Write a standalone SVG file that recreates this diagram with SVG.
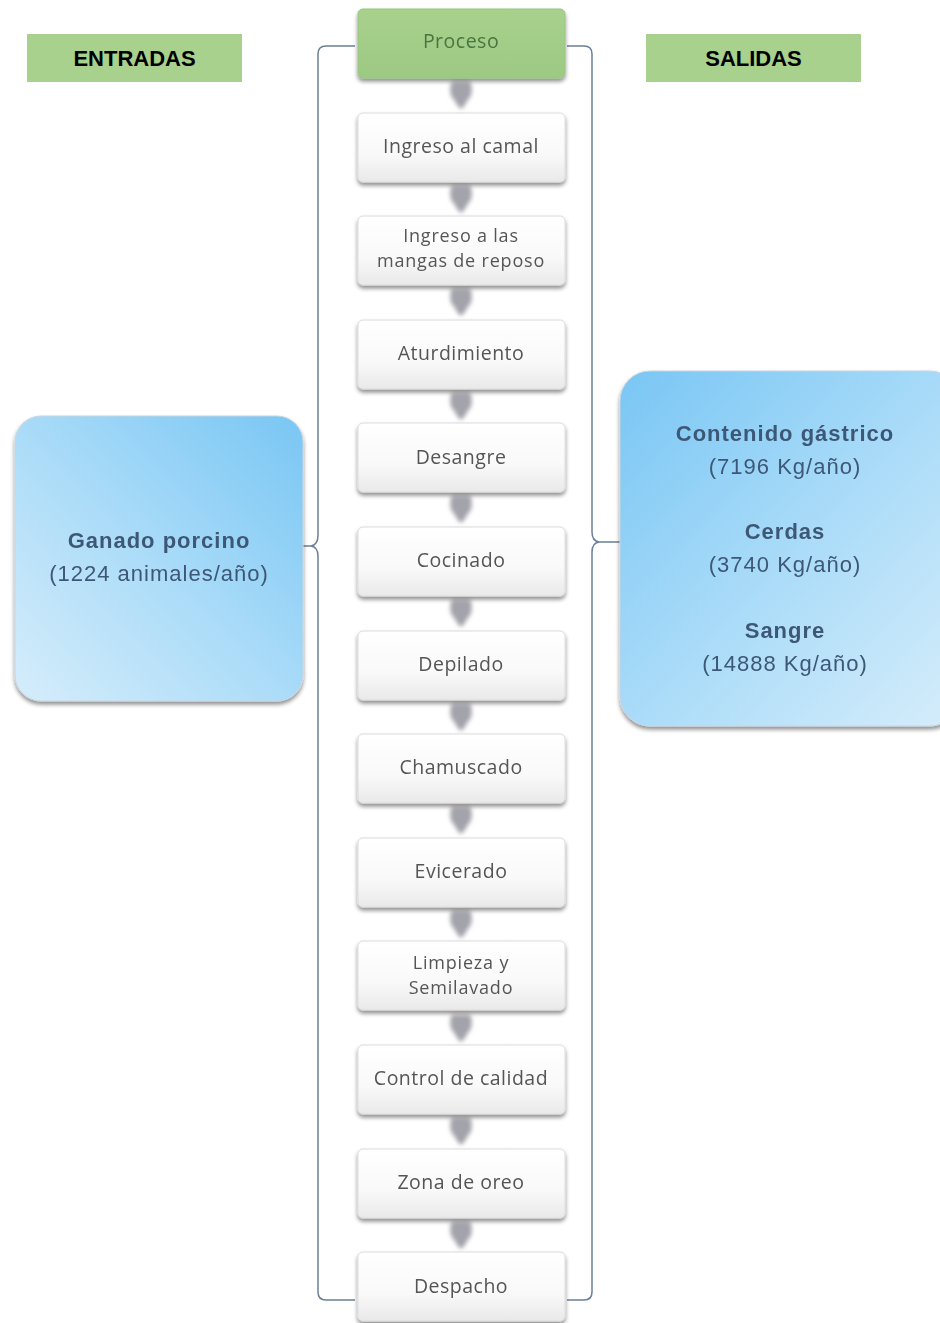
<svg xmlns="http://www.w3.org/2000/svg" width="940" height="1323" viewBox="0 0 940 1323">
  <defs>
    <linearGradient id="stepFill" x1="0" y1="0" x2="0" y2="1">
      <stop offset="0" stop-color="#ffffff"/>
      <stop offset="0.6" stop-color="#f9f9f9"/>
      <stop offset="1" stop-color="#e9e9e9"/>
    </linearGradient>
    <linearGradient id="headFill" x1="0" y1="0" x2="0" y2="1">
      <stop offset="0" stop-color="#a8d18c"/>
      <stop offset="1" stop-color="#9cc983"/>
    </linearGradient>
    <linearGradient id="blueFill" x1="1" y1="0" x2="0" y2="1">
      <stop offset="0" stop-color="#79c6f4"/>
      <stop offset="0.5" stop-color="#a9dbf8"/>
      <stop offset="1" stop-color="#d6edfb"/>
    </linearGradient>
    <linearGradient id="blueFillR" x1="0" y1="0" x2="1" y2="1">
      <stop offset="0" stop-color="#79c6f4"/>
      <stop offset="0.5" stop-color="#a9dbf8"/>
      <stop offset="1" stop-color="#d6edfb"/>
    </linearGradient>
    <filter id="shadow" x="-10%" y="-10%" width="120%" height="130%">
      <feGaussianBlur in="SourceAlpha" stdDeviation="2"/>
      <feOffset dy="3" result="b"/>
      <feComponentTransfer><feFuncA type="linear" slope="0.45"/></feComponentTransfer>
      <feMerge><feMergeNode/><feMergeNode in="SourceGraphic"/></feMerge>
    </filter>
    <filter id="soft" x="-50%" y="-50%" width="200%" height="200%">
      <feGaussianBlur stdDeviation="2"/>
    </filter>
    <symbol id="arrow" viewBox="0 0 28 36" overflow="visible">
      <path d="M6 2 H22 Q26 2 26 8 V14 Q26 18 22 22 L17 30 Q14 34 11 30 L6 22 Q2 18 2 14 V8 Q2 2 6 2 Z" fill="#a3a3ab"/>
    </symbol>
  </defs>
  <style>
    .step rect { fill: url(#stepFill); stroke: #dcdcdc; stroke-width: 1; }
    .step text { font-family: "Open Sans", "Noto Sans", sans-serif; font-size: 19.5px; letter-spacing: 0.5px; fill: #555555; text-anchor: middle; }
    .step text.two { font-size: 18px; letter-spacing: 0.8px; }
    .tag rect { fill: #a9d18e; }
    .tag text { font-family: "Liberation Sans", Arial, sans-serif; font-size: 22px; font-weight: bold; fill: #000; text-anchor: middle; }
    .blue rect { fill: url(#blueFill); stroke: #c8d6e2; stroke-width: 1; }
    .blue text { font-family: "Liberation Sans", Arial, sans-serif; font-size: 22px; letter-spacing: 1px; fill: #3e5876; text-anchor: middle; }
    .blue .b { font-weight: bold; }
    .links path { fill: none; stroke: #6b7f98; stroke-width: 1.5; }
  </style>

  <rect width="940" height="1323" fill="#ffffff"/>

  <!-- section labels -->
  <g id="entradas" class="tag"><rect x="27" y="34" width="215" height="48"/><text x="134.5" y="66">ENTRADAS</text></g>
  <g id="salidas" class="tag"><rect x="646" y="34" width="215" height="48"/><text x="753.5" y="66">SALIDAS</text></g>

  <!-- braces grouping the process chain -->
  <g id="connectors" class="links">
    <path d="M355 46 H326 Q318 46 318 54 V535 Q318 545 311 546 H278 M311 546 Q318 547 318 556 V1292 Q318 1300 326 1300 H355"/>
    <path d="M567 46 H584 Q592 46 592 54 V532 Q592 541 599 542 H626 M599 542 Q592 543 592 552 V1292 Q592 1300 584 1300 H567"/>
    <g filter="url(#soft)">
      <use href="#arrow" x="447" y="80" width="28" height="32"/>
      <use href="#arrow" x="447" y="184" width="28" height="32"/>
      <use href="#arrow" x="447" y="287" width="28" height="32"/>
      <use href="#arrow" x="447" y="391" width="28" height="32"/>
      <use href="#arrow" x="447" y="494" width="28" height="32"/>
      <use href="#arrow" x="447" y="598" width="28" height="32"/>
      <use href="#arrow" x="447" y="702" width="28" height="32"/>
      <use href="#arrow" x="447" y="805" width="28" height="32"/>
      <use href="#arrow" x="447" y="909" width="28" height="32"/>
      <use href="#arrow" x="447" y="1013" width="28" height="32"/>
      <use href="#arrow" x="447" y="1116" width="28" height="32"/>
      <use href="#arrow" x="447" y="1220" width="28" height="32"/>
    </g>
  </g>

  <!-- process steps -->
  <g id="proceso" class="step" filter="url(#shadow)"><rect x="358" y="9" width="207" height="69" rx="5" style="fill:url(#headFill);stroke:#98c47e"/><text x="461" y="48" style="fill:#4a7540">Proceso</text></g>
  <g id="ingreso-camal" class="step" filter="url(#shadow)"><rect x="358" y="113" width="207" height="69" rx="5"/><text x="461" y="153">Ingreso al camal</text></g>
  <g id="ingreso-mangas" class="step" filter="url(#shadow)"><rect x="358" y="216" width="207" height="69" rx="5"/><text class="two" x="461" y="242">Ingreso a las</text><text class="two" x="461" y="267">mangas de reposo</text></g>
  <g id="aturdimiento" class="step" filter="url(#shadow)"><rect x="358" y="320" width="207" height="69" rx="5"/><text x="461" y="360">Aturdimiento</text></g>
  <g id="desangre" class="step" filter="url(#shadow)"><rect x="358" y="423" width="207" height="69" rx="5"/><text x="461" y="464">Desangre</text></g>
  <g id="cocinado" class="step" filter="url(#shadow)"><rect x="358" y="527" width="207" height="69" rx="5"/><text x="461" y="567">Cocinado</text></g>
  <g id="depilado" class="step" filter="url(#shadow)"><rect x="358" y="631" width="207" height="69" rx="5"/><text x="461" y="671">Depilado</text></g>
  <g id="chamuscado" class="step" filter="url(#shadow)"><rect x="358" y="734" width="207" height="69" rx="5"/><text x="461" y="774">Chamuscado</text></g>
  <g id="evicerado" class="step" filter="url(#shadow)"><rect x="358" y="838" width="207" height="69" rx="5"/><text x="461" y="878">Evicerado</text></g>
  <g id="limpieza" class="step" filter="url(#shadow)"><rect x="358" y="941" width="207" height="69" rx="5"/><text class="two" x="461" y="969">Limpieza y</text><text class="two" x="461" y="994">Semilavado</text></g>
  <g id="control" class="step" filter="url(#shadow)"><rect x="358" y="1045" width="207" height="69" rx="5"/><text x="461" y="1085">Control de calidad</text></g>
  <g id="oreo" class="step" filter="url(#shadow)"><rect x="358" y="1149" width="207" height="69" rx="5"/><text x="461" y="1189">Zona de oreo</text></g>
  <g id="despacho" class="step" filter="url(#shadow)"><rect x="358" y="1252" width="207" height="69" rx="5"/><text x="461" y="1293">Despacho</text></g>

  <!-- inputs -->
  <g id="ganado" class="blue" filter="url(#shadow)">
    <rect x="15" y="416" width="288" height="285" rx="26"/>
    <text class="b" x="159" y="548">Ganado porcino</text>
    <text x="159" y="581">(1224 animales/año)</text>
  </g>

  <!-- outputs -->
  <g id="residuos" class="blue" filter="url(#shadow)">
    <rect x="620" y="371" width="340" height="355" rx="30" style="fill:url(#blueFillR)"/>
    <text class="b" x="785" y="441">Contenido gástrico</text>
    <text x="785" y="474">(7196 Kg/año)</text>
    <text class="b" x="785" y="539">Cerdas</text>
    <text x="785" y="572">(3740 Kg/año)</text>
    <text class="b" x="785" y="638">Sangre</text>
    <text x="785" y="671">(14888 Kg/año)</text>
  </g>
</svg>
